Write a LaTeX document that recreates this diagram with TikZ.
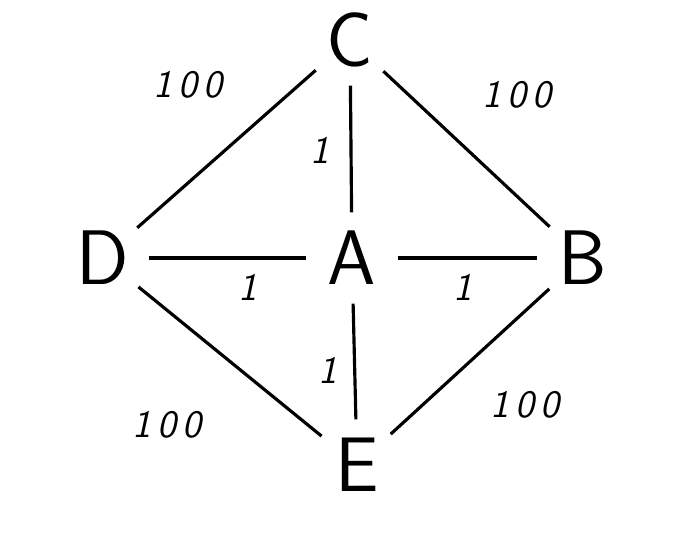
\documentclass[tikz,border=0pt]{standalone}
\usepackage{tikz}

\begin{document}
\begin{tikzpicture}[
  x=0.01cm, y=-0.01cm,
  vtx/.style={circle, minimum size=0.9cm, inner sep=0pt, font=\fontsize{22}{26}\selectfont\sffamily},
  edge/.style={line width=0.9pt, black},
  lbl/.style={font=\fontsize{11}{13}\selectfont\sffamily\slshape, inner sep=1pt},
]
\useasboundingbox (0,0) rectangle (685,543);

% ── Vertices ──
\node[vtx] (C) at (350,40) {C};
\node[vtx] (A) at (352,258) {A};
\node[vtx] (D) at (103,258) {D};
\node[vtx] (B) at (583,258) {B};
\node[vtx] (E) at (357,465) {E};

% ── Edges ──
\draw[edge] (C) -- (D);
\draw[edge] (C) -- (B);
\draw[edge] (C) -- (A);
\draw[edge] (D) -- (A);
\draw[edge] (A) -- (B);
\draw[edge] (A) -- (E);
\draw[edge] (D) -- (E);
\draw[edge] (B) -- (E);

% ── Weights ──
\node[lbl] (wCD) at (188,85) {1\,0\,0};
\node[lbl] (wCB) at (517,95) {1\,0\,0};
\node[lbl] (wCA) at (320,150) {1};
\node[lbl] (wDA) at (248,287) {1};
\node[lbl] (wAB) at (463,287) {1};
\node[lbl] (wAE) at (328,370) {1};
\node[lbl] (wDE) at (167,425) {1\,0\,0};
\node[lbl] (wBE) at (525,405) {1\,0\,0};

\end{tikzpicture}
\end{document}
